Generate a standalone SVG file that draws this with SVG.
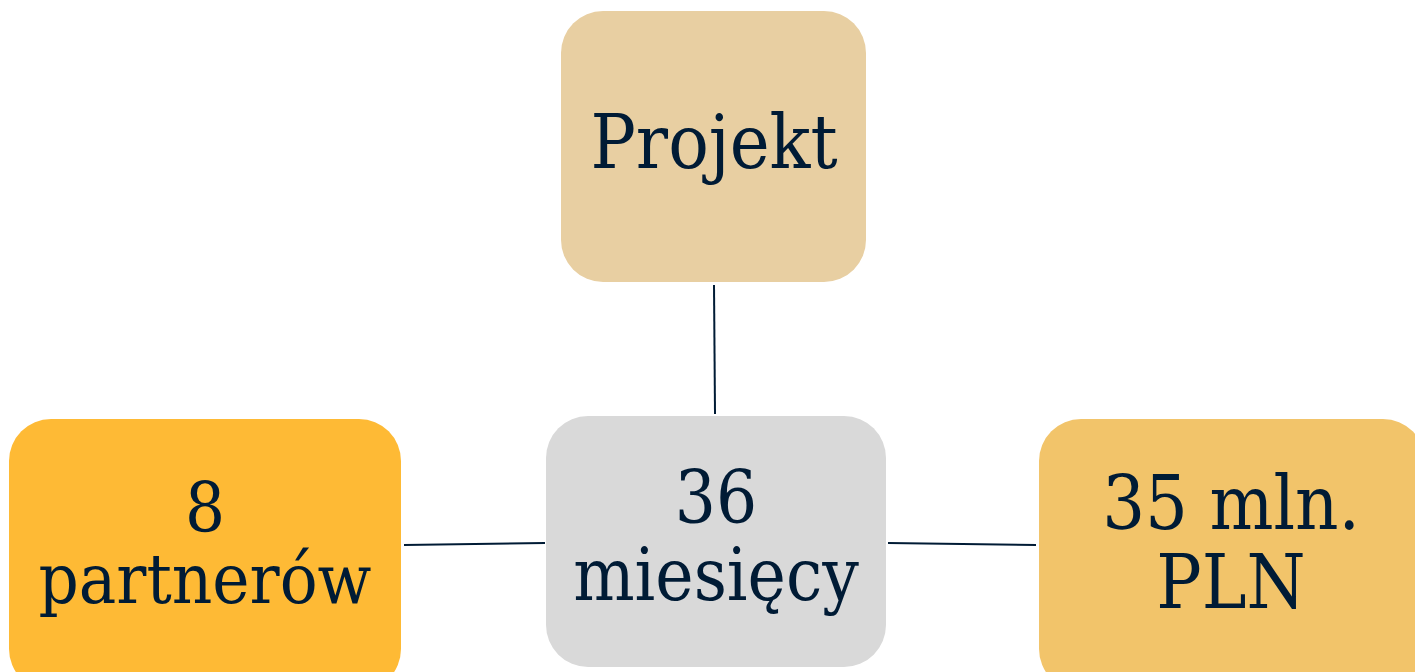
<svg xmlns="http://www.w3.org/2000/svg" width="1415" height="672" viewBox="0 0 1415 672">
<style>
text{font-family:"DejaVu Serif Condensed","DejaVu Serif",serif;font-stretch:condensed;fill:#001B35;text-anchor:middle;font-size:72px}
.conn line{stroke:#001B35;stroke-width:2}
</style>
<rect width="1415" height="672" fill="#ffffff"/>
<g class="conn" id="connectors">
<line x1="714" y1="285" x2="715" y2="414"/>
<line x1="404" y1="545" x2="545" y2="543"/>
<line x1="888" y1="543" x2="1036" y2="545"/>
</g>
<g id="projekt">
<rect x="561" y="11" width="305" height="271" rx="42" fill="#E8CFA2"/>
<text x="714" y="168" style="font-size:75px">Projekt</text>
</g>
<g id="partnerow">
<rect x="9" y="419" width="392" height="272" rx="42" fill="#FEBA35"/>
<text x="205" y="532" style="font-size:70px">8</text>
<text x="205" y="603" style="font-size:70px">partnerów</text>
</g>
<g id="miesiecy">
<rect x="546" y="416" width="340" height="251" rx="42" fill="#D9D9D9"/>
<text x="716" y="523">36</text>
<text x="716" y="600">miesięcy</text>
</g>
<g id="pln">
<rect x="1039" y="419" width="386" height="272" rx="42" fill="#F2C46A"/>
<text x="1231" y="529" style="font-size:75px">35 mln.</text>
<text x="1231" y="608" style="font-size:75px">PLN</text>
</g>
</svg>
